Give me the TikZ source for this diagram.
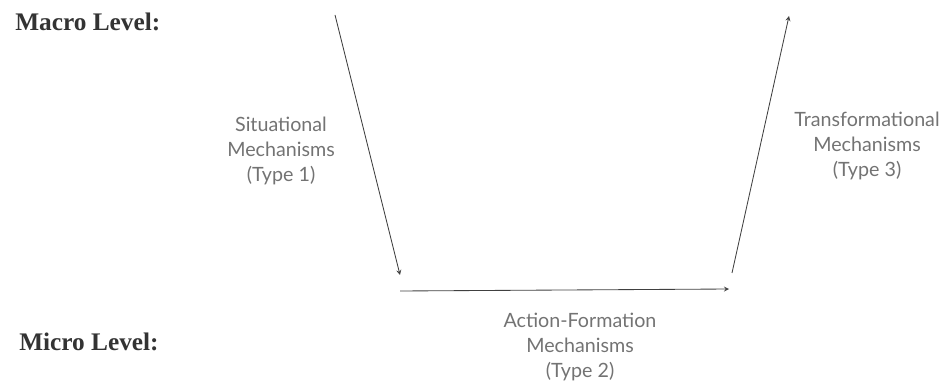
\documentclass[tikz,border=0pt]{standalone}
\usepackage{fontspec}
\setmainfont{Lato}
\newfontfamily\levelfont{Liberation Serif}
\tikzset{> = stealth}
\tikzset{
  level/.style = {font=\levelfont\bfseries\fontsize{18}{20}\selectfont, text=black!80, inner sep=0pt},
  mech/.style = {align=center, font=\fontsize{14}{17.8}\selectfont, text=black!55},
  link/.style = {->, black!75, line width=0.6pt}
}

\begin{document}
\begin{tikzpicture}[x=0.025cm, y=-0.025cm]
\useasboundingbox (0,0) rectangle (945,385);
% nodes
\node[level, anchor=west] (macro) at (15, 22)  {Macro Level:};
\node[level, anchor=west] (micro) at (19, 342) {Micro Level:};
\node[mech] (sit) at (281, 151) {Situational\\Mechanisms\\(Type 1)};
\node[mech] (act) at (580, 347) {Action-Formation\\Mechanisms\\(Type 2)};
\node[mech] (tra) at (867, 146) {Transformational\\Mechanisms\\(Type 3)};
% arrow ends
\coordinate (sitA) at (335, 15);
\coordinate (sitB) at (400, 275);
\coordinate (actA) at (400, 291);
\coordinate (actB) at (729, 289);
\coordinate (traA) at (732, 273);
\coordinate (traB) at (789, 16);
% edges
\draw[link] (sitA) -- (sitB); % macro to micro
\draw[link] (actA) -- (actB);
\draw[link] (traA) -- (traB); % micro to macro
\end{tikzpicture}
\end{document}
